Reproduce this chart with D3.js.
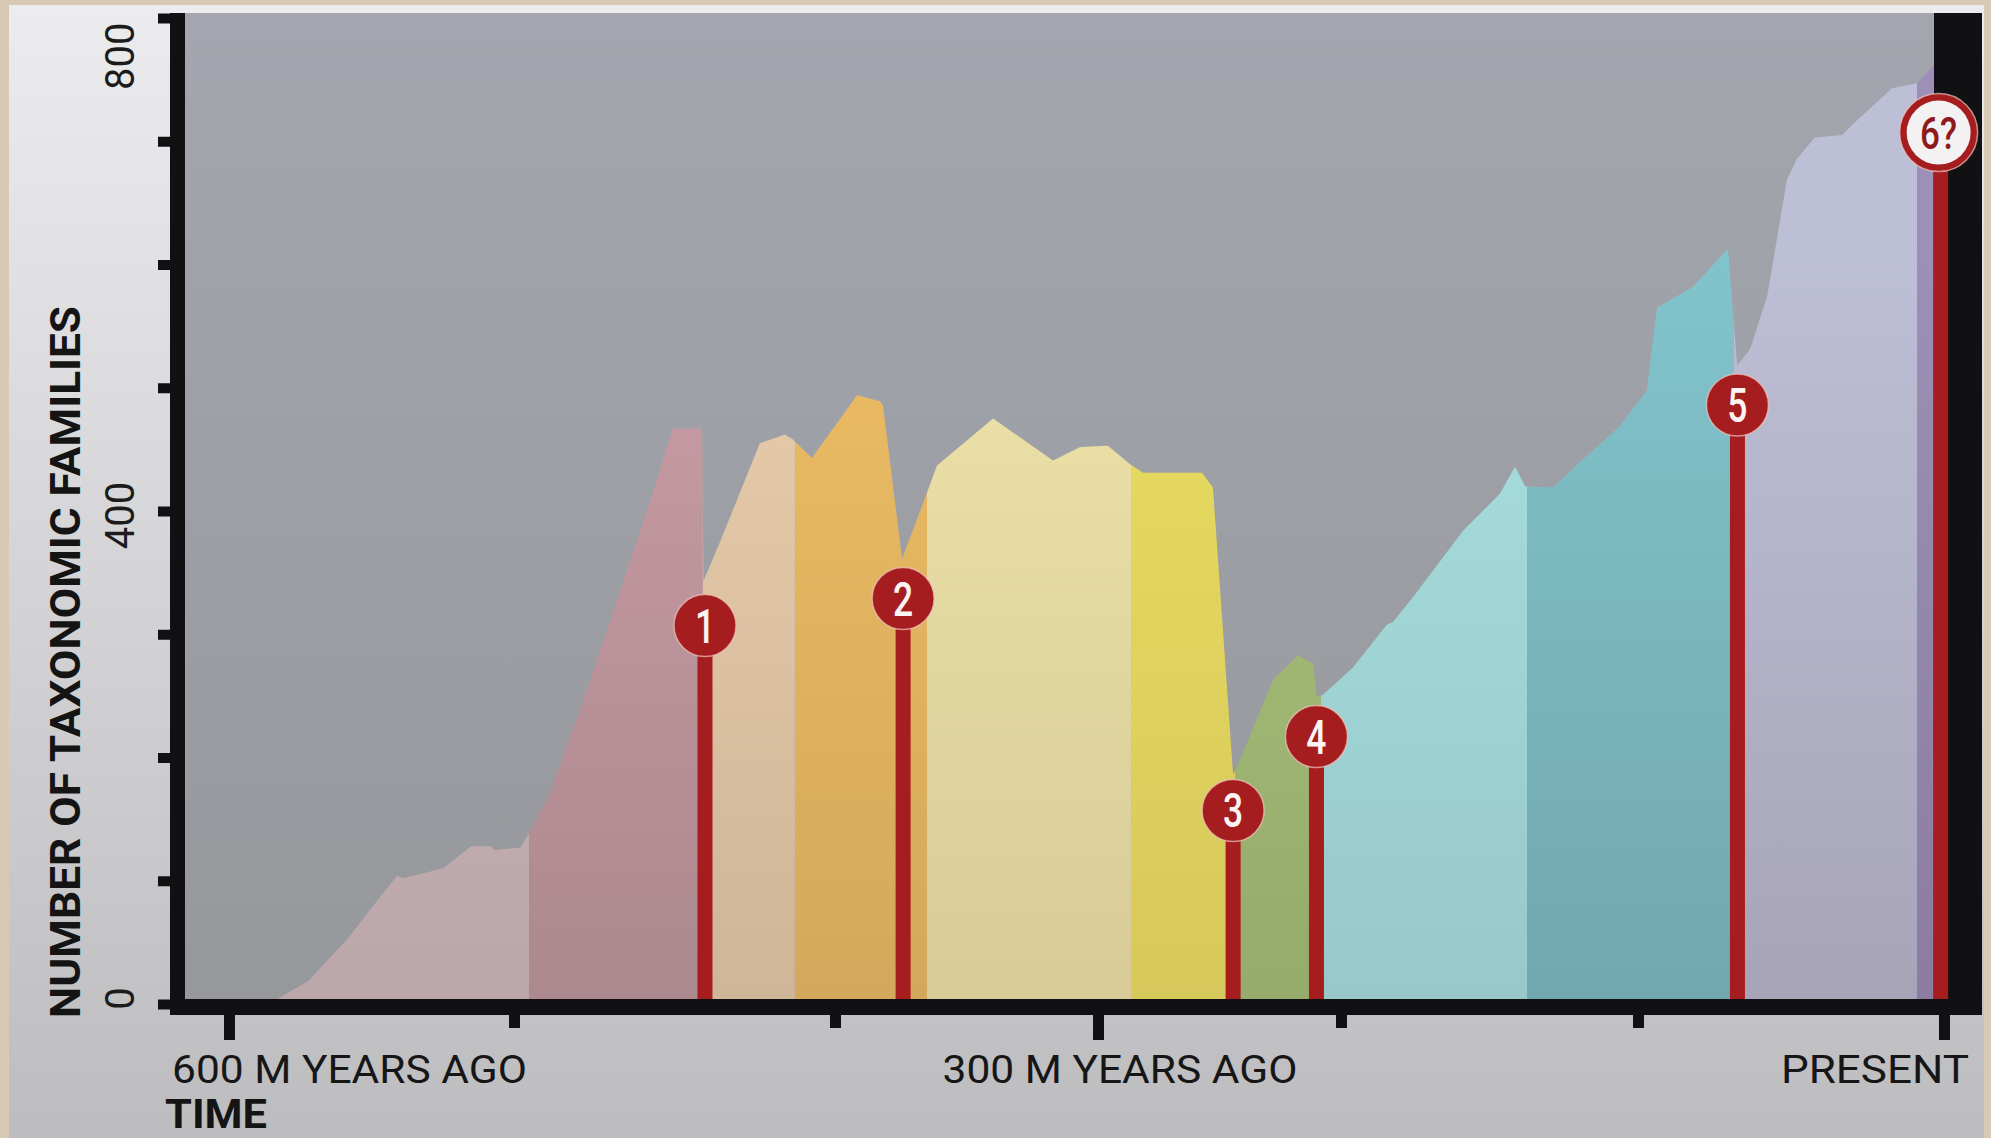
<!DOCTYPE html>
<html>
<head>
<meta charset="utf-8">
<script src="https://cdn.jsdelivr.net/npm/d3@7"></script>
<style>
  html, body { margin: 0; padding: 0; background: #d6cab4; }
  svg { display: block; }
</style>
</head>
<body>
<svg id="chart" width="1991" height="1138"></svg>
<script>
// ---- Data: number of taxonomic families through time ----
// [million years ago, families]
const diversity = [
  [586, 0], [572, 19], [558, 54], [551, 75], [541, 104], [539, 102], [525, 110],
  [515, 128], [508, 128], [507, 125], [498, 127], [495, 140], [489, 170],
  [478.5, 245], [468, 327], [457.6, 408], [450.5, 467], [441.4, 467],
  [441.0, 343], [435.8, 375], [429.6, 415], [423.4, 455], [415.6, 462],
  [413.1, 458], [407.2, 443], [391.6, 494], [382.9, 489], [381.7, 485],
  [374.5, 361], [365, 415], [361.2, 437], [339.9, 475], [317.1, 441],
  [306.8, 452], [295.9, 453], [286.8, 438], [281.5, 431], [257.2, 431],
  [252.7, 419], [244.4, 186], [242.4, 194], [228, 263], [217.7, 283],
  [211.5, 276], [209.9, 249], [207.4, 251], [196, 273], [184.5, 308],
  [182.5, 310], [175.8, 330], [158.9, 384], [146.5, 414], [141.4, 436],
  [138, 420], [128.6, 419], [118.5, 442], [106.1, 469], [97.1, 498],
  [93.8, 565], [82, 582], [70.6, 613], [67.6, 518], [63.4, 531],
  [57.8, 574], [51.3, 669], [48, 686], [42.2, 703], [33.3, 705],
  [28.4, 717], [17, 743], [8.8, 747], [2.9, 763]
];

// Geological periods that colour the area (million years ago)
const periods     = ["Cambrian", "Ordovician", "Silurian", "Devonian", "Carboniferous",
                     "Permian", "Triassic", "Jurassic", "Cretaceous", "Paleogene", "Neogene"];
const periodStart = [615, 495.3, 441.2, 412.5, 365, 286.4, 243.6, 208.2, 137.3, 68.6, 8.8];
const periodEnd   = [495.3, 441.2, 412.5, 365, 286.4, 243.6, 208.2, 137.3, 68.6, 8.8, 0];

// Mass extinction events
const eventLabels = ["1", "2", "3", "4", "5", "6?"];
const eventMya    = [440.5, 374.1, 244.4, 210.1, 67.5, 1.1];
const eventHeight = [307, 329, 157, 217, 486, 707];   // families level of each marker

// Axis ticks
const timeTicks      = [600, 500, 400, 300, 200, 100, 0];
const timeTickLabels = ["600 M YEARS AGO", "", "", "300 M YEARS AGO", "", "", "PRESENT"];
const familyTicks    = [0, 100, 200, 300, 400, 500, 600, 700, 800];
const familyLabelled = [0, 400, 800];

// ---- Styles ----
const periodTopColor    = ["#ccb7ba", "#cc9da6", "#eaceac", "#eebe64", "#efe4a9", "#eade60",
                           "#aac47c", "#a8e1e1", "#82c4cc", "#bdbfd6", "#9d8fb7"];
const periodBottomColor = ["#bba7a9", "#ab898e", "#cfb699", "#d4a85c", "#d8cb98", "#d7c85b",
                           "#96ab6c", "#98c8ca", "#72a7af", "#a7a4b8", "#8c7ca1"];
const RED = "#a61d1f";
const INK = "#111113";

// ---- Layout ----
const W = 1991, H = 1138;
const plot = { left: 185, right: 1934, top: 13, bottom: 999 };
const tickPx = [229, 514, 835, 1098, 1341, 1638, 1944];   // uneven time axis spacing

const svg = d3.select("#chart");
const defs = svg.append("defs");

const x = d3.scaleLinear().domain(timeTicks).range(tickPx);
const y = d3.scaleLinear().domain([0, 800]).range([1004, 18]);

function vGrad(id, top, bottom, y1, y2) {
  const g = defs.append("linearGradient").attr("id", id)
    .attr("gradientUnits", "userSpaceOnUse")
    .attr("x1", 0).attr("x2", 0).attr("y1", y1).attr("y2", y2);
  g.append("stop").attr("offset", 0).attr("stop-color", top);
  g.append("stop").attr("offset", 1).attr("stop-color", bottom);
}

// panel and plot backgrounds
vGrad("panelGrad", "#ececee", "#bdbcbe", 0, H);
vGrad("plotGrad", "#a3a6ae", "#96989c", plot.top, plot.bottom);

svg.append("rect").attr("x", 9).attr("y", 5).attr("width", 1975).attr("height", H - 5)
  .attr("fill", "url(#panelGrad)");
svg.append("rect").attr("x", plot.left).attr("y", plot.top)
  .attr("width", plot.right - plot.left).attr("height", plot.bottom - plot.top)
  .attr("fill", "url(#plotGrad)");

// ---- Diversity area, coloured by period ----
const area = d3.area()
  .x(d => x(d[0]))
  .y0(y(0))
  .y1(d => y(d[1]));

periods.forEach((p, i) => {
  vGrad("band" + i, periodTopColor[i], periodBottomColor[i], 250, plot.bottom);
  const x0 = Math.max(plot.left, x(periodStart[i]));
  const x1 = Math.min(plot.right, x(periodEnd[i]));
  defs.append("clipPath").attr("id", "clip" + i)
    .append("rect").attr("x", x0).attr("y", plot.top)
    .attr("width", x1 - x0).attr("height", plot.bottom - plot.top);
  svg.append("path")
    .datum(diversity)
    .attr("class", "period " + p)
    .attr("clip-path", "url(#clip" + i + ")")
    .attr("fill", "url(#band" + i + ")")
    .attr("d", area);
});

// ---- Axis frame ----
svg.append("rect").attr("x", 170).attr("y", plot.top).attr("width", plot.left - 170)
  .attr("height", 1015 - plot.top).attr("fill", INK);
svg.append("rect").attr("x", 170).attr("y", plot.bottom).attr("width", 1982 - 170)
  .attr("height", 1015 - plot.bottom).attr("fill", INK);
svg.append("rect").attr("x", plot.right).attr("y", plot.top).attr("width", 1982 - plot.right)
  .attr("height", 1015 - plot.top).attr("fill", INK);

// y axis
const yAxis = d3.axisLeft(y).tickValues(familyTicks).tickSize(12).tickPadding(0)
  .tickFormat(d => familyLabelled.includes(d) ? d : "");
const gy = svg.append("g").attr("transform", "translate(170,0)").call(yAxis);
gy.select(".domain").remove();
gy.selectAll(".tick line").attr("stroke", INK).attr("stroke-width", 10);
gy.selectAll(".tick text")
  .attr("x", null).attr("dy", null)
  .attr("font-family", "Roboto, 'DejaVu Sans', sans-serif")
  .attr("font-size", 40)
  .attr("fill", "#1b1b1c")
  .attr("text-anchor", d => d === 800 ? "end" : "middle")
  .attr("transform", d => `translate(-36,${d === 800 ? 4 : (d === 0 ? -6 : 4)}) rotate(-90)`);

// x axis
const xAxis = d3.axisBottom(x).tickValues(timeTicks).tickSize(13).tickFormat("");
const gx = svg.append("g").attr("transform", "translate(0,1015)").call(xAxis);
gx.select(".domain").remove();
gx.selectAll(".tick line").attr("stroke", INK).attr("stroke-width", 11)
  .attr("y2", (d, i) => timeTickLabels[i] ? 25 : 13);

const labelFont = "Roboto, 'DejaVu Sans', sans-serif";
timeTicks.forEach((t, i) => {
  const txt = timeTickLabels[i];
  if (!txt) return;
  const first = i === 0, last = i === timeTicks.length - 1;
  const w = last ? 188 : 355;
  const xs = first ? 172 : last ? 1969 - w : x(t) + 22 - w / 2;
  svg.append("text")
    .attr("x", xs).attr("y", 1083)
    .attr("font-family", labelFont).attr("font-size", 39).attr("fill", "#161617")
    .attr("textLength", w).attr("lengthAdjust", "spacingAndGlyphs")
    .text(txt);
});

svg.append("text")
  .attr("x", 165).attr("y", 1128)
  .attr("font-family", labelFont).attr("font-weight", 700).attr("font-size", 40)
  .attr("fill", "#141415")
  .attr("textLength", 102).attr("lengthAdjust", "spacingAndGlyphs")
  .text("TIME");

svg.append("text")
  .attr("transform", "translate(80,662) rotate(-90)")
  .attr("text-anchor", "middle")
  .attr("font-family", labelFont).attr("font-weight", 700).attr("font-size", 43)
  .attr("fill", "#141415")
  .attr("textLength", 712).attr("lengthAdjust", "spacingAndGlyphs")
  .text("NUMBER OF TAXONOMIC FAMILIES");

// ---- Extinction event markers ----
const events = eventLabels.map((label, i) => ({ label, mya: eventMya[i], level: eventHeight[i], last: i === eventLabels.length - 1 }));
const ev = svg.append("g").selectAll("g").data(events).join("g");

ev.append("rect")
  .attr("x", d => x(d.mya) - 7.5)
  .attr("y", d => y(d.level))
  .attr("width", 15)
  .attr("height", d => plot.bottom - y(d.level))
  .attr("fill", RED);

ev.append("circle")
  .attr("cx", d => x(d.mya) - (d.last ? 2 : 0))
  .attr("cy", d => y(d.level))
  .attr("r", d => d.last ? 39 : 31)
  .attr("fill", RED)
  .attr("stroke", "#f0c4be").attr("stroke-opacity", 0.7).attr("stroke-width", 1.5);

ev.filter(d => d.last).append("circle")
  .attr("cx", d => x(d.mya) - 2)
  .attr("cy", d => y(d.level))
  .attr("r", 32)
  .attr("fill", "#f3f1f1");

ev.append("text")
  .attr("transform", d => `translate(${x(d.mya) - (d.last ? 2 : 0)},${y(d.level) + (d.last ? 16 : 17)}) scale(${d.last ? 0.78 : 0.74},1)`)
  .attr("text-anchor", "middle")
  .attr("font-family", "Roboto, 'DejaVu Sans', sans-serif")
  .attr("font-weight", 500)
  .attr("font-size", d => d.last ? 45 : 48)
  .attr("fill", d => d.last ? "#8e1a1b" : "#fbf4f2")
  .text(d => d.label);
</script>
</body>
</html>
